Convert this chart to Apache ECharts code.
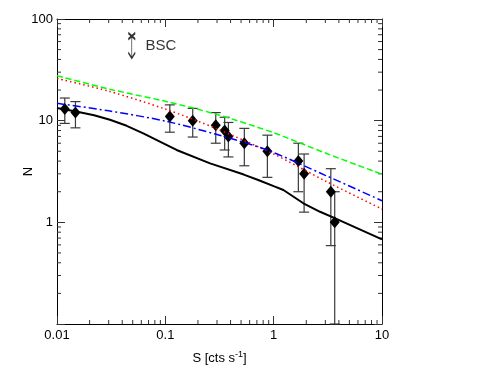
<!DOCTYPE html>
<html>
<head>
<meta charset="utf-8">
<script src="https://cdn.jsdelivr.net/npm/echarts@6/dist/echarts.min.js"></script>
<style>
  html, body { margin: 0; padding: 0; background: #fff; }
  #chart { width: 494px; height: 382px; }
</style>
</head>
<body>
<div id="chart"></div>
<script>
// ── measured sources (S, N, error range) ─────────────────────
const srcS   = [0.0118, 0.0148, 0.11, 0.179, 0.292, 0.353, 0.382, 0.536, 0.875, 1.69, 1.91, 3.37, 3.66]
const srcN   = [13, 12, 11, 10, 9, 8, 7, 6, 5, 4, 3, 2, 1]
const srcHi  = [16.7, 15.4, 14.3, 13.2, 12.0, 10.8, 9.6, 8.4, 7.2, 6.0, 4.7, 3.37, 2.0]
const srcLo  = [9.4, 8.5, 7.7, 6.9, 6.0, 5.15, 4.4, 3.6, 2.77, 2.0, 1.26, 0.59, 0.1]

// ── model curves ─────────────────────────────────────────────
const blackS = [0.01, 0.015, 0.022, 0.0308, 0.044, 0.0626, 0.09, 0.127, 0.259, 0.53,
                0.72, 1.0, 1.23, 1.42, 1.88, 2.68, 3.66, 10]
const blackN = [13.3, 12.3, 11.3, 10.2, 8.9, 7.5, 6.2, 5.15, 3.8, 2.95,
                2.61, 2.27, 2.08, 1.88, 1.54, 1.27, 1.10, 0.68]
const greenS = [0.01, 0.03, 0.1, 0.3, 1, 3, 10]
const greenN = [27.7, 20.5, 15.5, 11.5, 7.6, 4.8, 2.97]
const redS   = [0.01, 0.03, 0.1, 0.3, 1, 3, 10]
const redN   = [26, 19.5, 13.0, 8.3, 4.7, 2.55, 1.35]
const blueS  = [0.01, 0.03, 0.1, 0.3, 0.9, 3, 10]
const blueN  = [14.8, 12.5, 9.9, 7.3, 5.07, 2.9, 1.63]

// ── BSC upper-limit marker ───────────────────────────────────
const bscS = [0.049]
const bscN = [54.8]

// ── axes / minor ticks ───────────────────────────────────────
const X_MIN = 0.01, X_MAX = 10
const Y_MIN = 0.1,  Y_MAX = 100
const xMinor = [0.02, 0.03, 0.04, 0.05, 0.06, 0.07, 0.08, 0.09,
                0.2, 0.3, 0.4, 0.5, 0.6, 0.7, 0.8, 0.9,
                2, 3, 4, 5, 6, 7, 8, 9]
const yMinor = [0.2, 0.3, 0.4, 0.5, 0.6, 0.7, 0.8, 0.9,
                2, 3, 4, 5, 6, 7, 8, 9,
                20, 30, 40, 50, 60, 70, 80, 90]

const FONT = 'Liberation Sans, Arial, Helvetica, sans-serif'
const TICK = '#333'
const zip = (a, b) => a.map((v, i) => [v, b[i]])

const chart = echarts.init(document.getElementById('chart'), null, { renderer: 'canvas' })

function baseAxis(extra) {
  return Object.assign({
    type: 'log',
    logBase: 10,
    axisLine: { show: true, onZero: false, lineStyle: { color: '#000', width: 1 } },
    axisTick: { show: true, inside: true, length: 8, lineStyle: { color: TICK } },
    splitLine: { show: false },
    minorTick: { show: false },
    axisLabel: { show: false },
  }, extra)
}

const option = {
  animation: false,
  backgroundColor: '#fff',
  grid: { left: 57, right: 112, top: 19, bottom: 58 },
  xAxis: [
    baseAxis({
      min: X_MIN, max: X_MAX, position: 'bottom',
      name: '{a|S [cts s}{s|-1}{a|]}',
      nameLocation: 'middle', nameGap: 26, nameMoveOverlap: false,
      nameTextStyle: {
        rich: {
          a: { fontFamily: FONT, fontSize: 13, color: '#000', lineHeight: 16 },
          s: { fontFamily: FONT, fontSize: 9, color: '#000', verticalAlign: 'top', lineHeight: 10 },
        },
      },
      axisLabel: { show: true, margin: 5, color: '#000', fontFamily: FONT, fontSize: 13 },
    }),
    baseAxis({ min: X_MIN, max: X_MAX, position: 'top' }),
  ],
  yAxis: [
    baseAxis({
      min: Y_MIN, max: Y_MAX, position: 'left',
      name: 'N', nameLocation: 'middle', nameGap: 22, nameRotate: 90, nameMoveOverlap: false,
      nameTextStyle: { fontFamily: FONT, fontSize: 13, color: '#000' },
      axisLabel: {
        show: true, margin: 4, color: '#000', fontFamily: FONT, fontSize: 13,
        formatter: v => (v < 0.5 ? '' : String(v)),
      },
    }),
    baseAxis({ min: Y_MIN, max: Y_MAX, position: 'right' }),
  ],
  series: [
    // minor ticks on bottom / top
    {
      type: 'custom', silent: true, z: 1,
      data: xMinor.map(v => [v, Y_MIN]),
      renderItem: (params, api) => {
        const b = api.coord([api.value(0), Y_MIN])
        const t = api.coord([api.value(0), Y_MAX])
        const st = { stroke: TICK, lineWidth: 1 }
        return { type: 'group', children: [
          { type: 'line', shape: { x1: b[0], y1: b[1], x2: b[0], y2: b[1] - 4 }, style: st },
          { type: 'line', shape: { x1: t[0], y1: t[1], x2: t[0], y2: t[1] + 4 }, style: st },
        ] }
      },
    },
    // minor ticks on left / right
    {
      type: 'custom', silent: true, z: 1,
      data: yMinor.map(v => [X_MIN, v]),
      renderItem: (params, api) => {
        const l = api.coord([X_MIN, api.value(1)])
        const r = api.coord([X_MAX, api.value(1)])
        const st = { stroke: TICK, lineWidth: 1 }
        return { type: 'group', children: [
          { type: 'line', shape: { x1: l[0], y1: l[1], x2: l[0] + 4, y2: l[1] }, style: st },
          { type: 'line', shape: { x1: r[0], y1: r[1], x2: r[0] - 4, y2: r[1] }, style: st },
        ] }
      },
    },
    // error bars
    {
      type: 'custom', silent: true, z: 2,
      data: srcS.map((s, i) => [s, srcLo[i], srcHi[i]]),
      encode: { x: 0, y: [1, 2] },
      renderItem: (params, api) => {
        const lo = api.coord([api.value(0), api.value(1)])
        const hi = api.coord([api.value(0), api.value(2)])
        const w = 5
        const st = { stroke: '#3a3a3a', lineWidth: 1.2 }
        return { type: 'group', children: [
          { type: 'line', shape: { x1: lo[0], y1: lo[1], x2: hi[0], y2: hi[1] }, style: st },
          { type: 'line', shape: { x1: hi[0] - w, y1: hi[1], x2: hi[0] + w, y2: hi[1] }, style: st },
          { type: 'line', shape: { x1: lo[0] - w, y1: lo[1], x2: lo[0] + w, y2: lo[1] }, style: st },
        ] }
      },
    },
    {
      type: 'scatter', z: 3,
      symbol: 'diamond', symbolSize: [10, 12],
      itemStyle: { color: '#000', opacity: 1 },
      data: zip(srcS, srcN),
    },
    {
      type: 'line', z: 4, showSymbol: false, silent: true,
      lineStyle: { color: '#000', width: 2 },
      data: zip(blackS, blackN),
    },
    {
      type: 'line', z: 4, showSymbol: false, silent: true, smooth: 0.3,
      lineStyle: { color: '#00ff00', width: 1.5, type: [6, 3] },
      data: zip(greenS, greenN),
    },
    {
      type: 'line', z: 4, showSymbol: false, silent: true, smooth: 0.3,
      lineStyle: { color: '#ff0000', width: 1.5, type: [1.5, 3] },
      data: zip(redS, redN),
    },
    {
      type: 'line', z: 4, showSymbol: false, silent: true, smooth: 0.3,
      lineStyle: { color: '#0000ff', width: 1.5, type: [8, 3, 2, 3] },
      data: zip(blueS, blueN),
    },
    // BSC upper-limit symbol
    {
      type: 'scatter', z: 5, silent: true,
      symbol: 'path://M0,0L8,8M8,0L0,8M4,4L4,32M0,25L4,32L8,25',
      symbolSize: [7, 25],
      itemStyle: { color: 'none', borderColor: '#000', borderWidth: 1.3 },
      label: {
        show: true, position: 'right', distance: 9,
        formatter: 'BSC', color: '#000', fontFamily: FONT, fontSize: 15,
      },
      data: zip(bscS, bscN),
    },
  ],
}

chart.setOption(option)
</script>
</body>
</html>
